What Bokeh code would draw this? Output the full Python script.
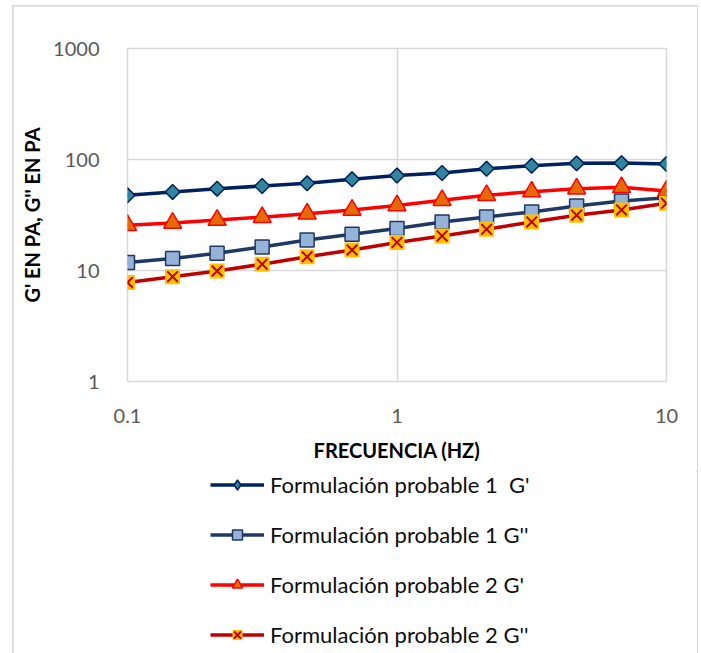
import math
from bokeh.plotting import figure
from bokeh.layouts import column
from bokeh.models import (Range1d, FixedTicker, Legend, LegendItem, ColumnDataSource)
from bokeh.embed import file_html
from bokeh.resources import INLINE

# ---- data ----
freq = [0.1, 0.147, 0.215, 0.316, 0.464, 0.681, 1.0, 1.47, 2.15, 3.16, 4.64, 6.81, 10.0]
g1_storage = [47.6, 51.0, 54.6, 57.7, 61.0, 66.3, 71.7, 75.6, 82.5, 87.8, 92.3, 92.8, 91.0]
g1_loss = [11.8, 12.8, 14.3, 16.3, 18.8, 21.2, 23.9, 27.4, 30.4, 33.7, 38.1, 42.3, 45.3]
g2_storage = [25.6, 26.8, 28.5, 30.2, 32.5, 35.1, 38.5, 42.9, 47.6, 51.3, 54.5, 56.1, 52.0]
g2_loss = [7.8, 8.8, 9.9, 11.4, 13.3, 15.3, 17.9, 20.5, 23.5, 27.4, 31.5, 35.1, 40.3]

series_labels = ["Formulación probable 1  G'", "Formulación probable 1 G''",
                 "Formulación probable 2 G'", "Formulación probable 2 G''"]
x_ticks = [0.1, 1, 10]
x_tick_labels = ["0.1", "1", "10"]
y_ticks = [1, 10, 100, 1000]
y_tick_labels = ["1", "10", "100", "1000"]

FONT = "Lato"

# styles per series: (line colour, marker, size, angle, fill, edge)
chart_styles = [
    ("#002060", "square", 10.5, math.pi / 4, "#31859C", "#002060"),
    ("#1F3864", "square", 14, 0.0, "#95B3D7", "#1F3864"),
    ("#FF0000", "triangle", 18, 0.0, "#E36C09", "#FF0000"),
    ("#C00000", "square_x_combo", 15, 0.0, "#FFC000", "#C00000"),
]
legend_styles = [
    ("#002060", "diamond", 16, 0.0, "#31859C", "#002060"),
    ("#1F3864", "square", 13, 0.0, "#95B3D7", "#1F3864"),
    ("#FF0000", "triangle", 15, 0.0, "#E36C09", "#FF0000"),
    ("#C00000", "square_x_combo", 13, 0.0, "#FFC000", "#C00000"),
]

p = figure(width=684, height=465, x_axis_type="log", y_axis_type="log",
           x_range=Range1d(0.1, 10), y_range=Range1d(1, 1000),
           output_backend="svg", toolbar_location=None,
           min_border_left=114, min_border_right=31, min_border_top=42,
           min_border_bottom=90)
p.outline_line_color = "#D9D9D9"
p.outline_line_width = 1.5
p.background_fill_color = "white"
p.border_fill_color = "white"

for ax in (p.xaxis[0], p.yaxis[0]):
    ax.axis_line_color = None
    ax.major_tick_line_color = None
    ax.minor_tick_line_color = None
    ax.major_label_text_color = "#595959"
    ax.major_label_text_font = FONT
    ax.major_label_text_font_size = "20px"
    ax.axis_label_text_font = FONT
    ax.axis_label_text_font_style = "bold"
    ax.axis_label_text_font_size = "20px"
    ax.axis_label_text_color = "#000000"

p.xaxis.ticker = FixedTicker(ticks=x_ticks, minor_ticks=[])
p.yaxis.ticker = FixedTicker(ticks=y_ticks, minor_ticks=[])
p.xaxis.major_label_overrides = {t: l for t, l in zip(x_ticks, x_tick_labels)}
p.yaxis.major_label_overrides = {t: l for t, l in zip(y_ticks, y_tick_labels)}
p.xaxis.major_label_standoff = 21
p.yaxis.major_label_standoff = 22
p.xaxis.axis_label = "FRECUENCIA (HZ)"
p.yaxis.axis_label = "G' EN PA, G'' EN PA"
p.xaxis.axis_label_standoff = 12
p.yaxis.axis_label_standoff = 6

p.xgrid.ticker = FixedTicker(ticks=x_ticks, minor_ticks=[])
p.ygrid.ticker = FixedTicker(ticks=y_ticks, minor_ticks=[])
p.grid.grid_line_color = "#D9D9D9"
p.grid.grid_line_width = 1.5

src = ColumnDataSource(dict(x=freq, a=g1_storage, b=g1_loss, c=g2_storage, d=g2_loss))

# legend-only figure below the chart; its ranges keep its own copies of the
# series out of view, so only the legend entries are visible there
lf = figure(width=684, height=182, x_axis_type=None, y_axis_type=None,
            output_backend="svg", toolbar_location=None,
            min_border_left=114, min_border_top=0, min_border_right=31,
            min_border_bottom=0,
            x_range=Range1d(-2, -1), y_range=Range1d(-2, -1))
lf.outline_line_color = None
lf.grid.visible = False
lf.background_fill_color = "white"
lf.border_fill_color = "white"


def draw(fig, source, xcol, ycol, st):
    lc, mk, sz, ang, fc, ec = st
    rs = [fig.line(xcol, ycol, source=source, line_color=lc, line_width=3.5)]
    if mk == "square_x_combo":
        rs.append(fig.scatter(xcol, ycol, source=source, marker="square", size=sz,
                              fill_color=fc, line_color=None))
        rs.append(fig.scatter(xcol, ycol, source=source, marker="x", size=sz,
                              line_color=ec, line_width=2))
    else:
        rs.append(fig.scatter(xcol, ycol, source=source, marker=mk, size=sz, angle=ang,
                              fill_color=fc, line_color=ec, line_width=1.5))
    return rs


items = []
for col, cst, lst, lab in zip(["a", "b", "c", "d"], chart_styles, legend_styles,
                              series_labels):
    draw(p, src, "x", col, cst)
    rs = draw(lf, src, "x", col, lst)
    items.append(LegendItem(label=lab, renderers=rs))

legend = Legend(items=items, location=(83, 5), orientation="vertical",
                glyph_width=54, glyph_height=25, label_height=25, spacing=23,
                label_standoff=6, padding=0, margin=0,
                label_text_font=FONT, label_text_font_size="22px",
                label_text_color="#0D0D0D",
                border_line_alpha=0, background_fill_alpha=0)
lf.add_layout(legend)

layout = column(p, lf, spacing=0)
layout.margin = (6, 0, 0, 13)
layout.styles = {"outline": "2px solid #D9D9D9", "outline-offset": "-1px"}

open("out.html", "w").write(file_html(layout, INLINE))
